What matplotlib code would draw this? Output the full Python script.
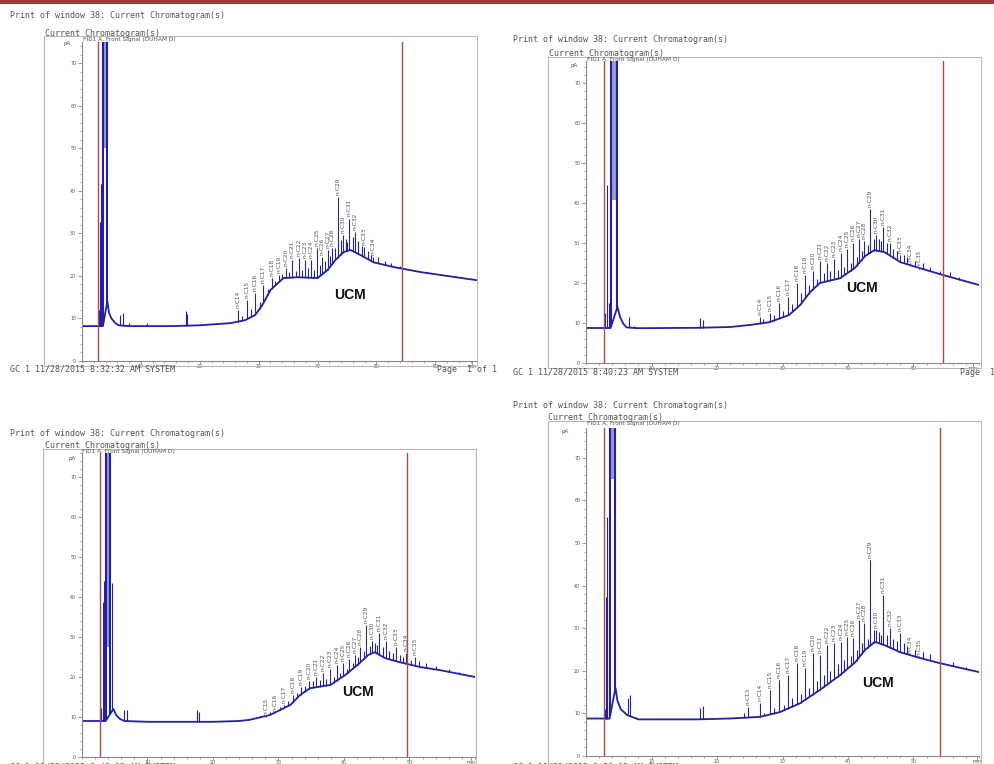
import matplotlib
matplotlib.use('Agg')
import matplotlib.pyplot as plt
from matplotlib.patches import Rectangle
from matplotlib.ticker import MultipleLocator
import numpy as np

W, H = 995, 764

# retention times (min) of the labelled n-alkane peaks, same method for all four runs
alkane_t = [24.8, 26.5, 28.1, 29.4, 30.8, 32.2, 33.4, 34.6, 35.7, 36.8, 37.9, 38.9,
            39.9, 40.8, 41.7, 42.5, 43.4, 44.3, 45.4, 46.4, 47.9, 49.4, 50.9]
alkane_names = ['n-C13', 'n-C14', 'n-C15', 'n-C16', 'n-C17', 'n-C18', 'n-C19', 'n-C20',
                'n-C21', 'n-C22', 'n-C23', 'n-C24', 'n-C25', 'n-C26', 'n-C27', 'n-C28',
                'n-C29', 'n-C30', 'n-C31', 'n-C32', 'n-C33', 'n-C34', 'n-C35']
nan = np.nan

# ---- top left run
tl_base_t = [0, 3.55, 4.3, 4.6, 5.0, 5.6, 6.2, 8, 15, 20, 25.2, 27.7, 29.4, 30.6, 32.0, 34.2,
             36.6, 40.0, 41.7, 43.0, 44.4, 45.6, 47.3, 49.5, 52.9, 57.5, 67]
tl_base_y = [8.2, 8.2, 14.0, 11.3, 10.0, 9.0, 8.4, 8.2, 8.2, 8.4, 8.9, 9.6, 10.8, 13.1, 16.7, 19.5,
             19.7, 19.5, 21.4, 23.7, 25.6, 26.1, 24.9, 23.2, 22.1, 20.9, 19.0]
tl_alk_top = [nan, 12.0, 14.3, 16.0, 17.8, 19.5, 20.2, 21.8, 23.7, 24.2, 23.7, 23.7,
              26.5, 24.4, 26.0, 26.5, 38.5, 29.6, 33.5, 30.3, 26.8, 24.4, nan]
tl_early_t = [2.95, 3.05, 3.2, 3.4, 6.45, 6.9, 7.9, 11.0, 17.6, 17.9]
tl_early_top = [12.0, 32.6, 41.5, 18.0, 10.8, 11.3, 9.0, 8.9, 11.7, 11.0]
tl_solvent = [3.6, 4.2, 50.0]
tl_minor_t = [27.2, 28.7, 30.2, 31.5, 32.8, 34.0, 35.2, 36.3, 37.3, 38.4, 39.4, 40.4, 41.3, 42.1,
              43.0, 43.9, 44.8, 45.0, 46.0, 46.9, 47.5, 48.5, 49.0, 50.2, 51.5, 52.5, 54.0, 56.0,
              58.5, 61.0, 63.5]
tl_minor_top = [10.6, 12.3, 13.8, 17.0, 18.8, 20.5, 21.0, 21.2, 21.5, 21.8, 21.5, 22.5, 23.5, 24.8,
                26.5, 28.5, 28.8, 28.0, 29.2, 28.2, 27.0, 25.8, 25.0, 24.5, 23.6, 23.0, 22.3, 21.5,
                21.0, 20.4, 19.9]
tl_cuts = [2.7, 54.4]

# ---- top right run
tr_base_t = [0, 3.75, 4.8, 5.2, 5.7, 6.2, 8, 17, 22, 25, 28, 31, 32.7, 34.2, 35.7, 38.8, 41.0,
             42.6, 44.0, 45.6, 48.0, 51.0, 54.5, 60]
tr_base_y = [8.75, 8.75, 14.0, 11.5, 9.8, 8.9, 8.7, 8.8, 9.0, 9.5, 10.2, 12.0, 14.5, 17.7, 20.0,
             21.2, 23.7, 26.7, 28.2, 27.7, 25.2, 23.7, 22.0, 19.5]
tr_alk_top = [nan, 11.5, 12.5, 15.0, 16.5, 20.0, 22.0, 23.0, 25.5, 25.0, 26.0, 27.5,
              28.5, 30.0, 31.0, 30.5, 38.5, 32.0, 34.0, 30.0, 27.0, 25.0, 23.5]
tr_early_t = [2.9, 3.25, 3.45, 6.6, 7.4, 17.4, 17.8]
tr_early_top = [12.5, 44.5, 15.0, 11.5, 9.3, 11.2, 10.8]
tr_solvent = [3.8, 4.7, 40.7]
tr_minor_t = [27.0, 28.7, 30.0, 31.5, 32.8, 34.0, 35.2, 36.3, 37.3, 38.4, 39.4, 40.4, 41.3, 42.1,
              43.0, 43.9, 44.8, 45.0, 46.0, 46.9, 47.5, 48.5, 49.0, 50.2, 51.5, 52.5, 54.0, 55.5,
              57.0]
tr_minor_top = [11.0, 12.0, 13.0, 14.8, 17.5, 19.5, 21.0, 22.5, 23.0, 23.2, 24.0, 25.0, 26.5, 28.0,
                29.5, 31.0, 31.0, 30.5, 30.0, 28.5, 28.0, 27.0, 26.5, 25.5, 25.0, 24.0, 23.0, 22.8,
                21.5]
tr_cuts = [2.75, 54.5]

# ---- bottom left run
bl_base_t = [0, 3.6, 4.8, 5.2, 5.8, 6.5, 10, 20, 24, 25.6, 28.7, 31.8, 33.3, 34.8, 37.9, 40.2,
             42.4, 43.7, 44.7, 46.3, 48.5, 51.6, 54.7, 60]
bl_base_y = [9.0, 9.0, 12.0, 10.5, 9.5, 9.0, 8.8, 8.8, 9.0, 9.3, 10.5, 13.0, 15.5, 17.2, 18.0,
             20.5, 23.5, 25.5, 26.2, 24.7, 23.7, 22.5, 21.7, 20.0]
bl_alk_top = [nan, nan, 10.0, 11.0, 13.0, 15.5, 17.5, 19.0, 20.0, 21.0, 22.0, 23.0,
              23.5, 24.5, 25.5, 27.5, 33.0, 29.0, 31.0, 29.0, 27.5, 26.0, 25.0]
bl_early_t = [2.9, 3.15, 3.3, 3.45, 4.6, 6.4, 6.8, 17.6, 17.9]
bl_early_top = [12.2, 38.7, 44.0, 18.7, 43.5, 11.7, 11.7, 11.7, 11.2]
bl_solvent = [3.66, 4.3, 27.5]
bl_minor_t = [27.2, 28.7, 30.2, 31.5, 32.8, 34.0, 35.2, 36.3, 37.3, 38.4, 39.4, 40.4, 41.3, 42.1,
              43.0, 43.9, 44.8, 45.0, 46.0, 46.9, 47.5, 48.5, 49.0, 50.2, 51.5, 52.5, 54.0, 56.0,
              57.5]
bl_minor_top = [10.3, 11.2, 12.5, 14.0, 16.0, 17.8, 19.0, 19.2, 19.5, 20.0, 21.0, 22.0, 23.5, 25.0,
                26.5, 27.8, 28.5, 28.0, 27.5, 26.5, 26.0, 25.5, 25.0, 24.3, 24.0, 23.5, 22.8, 22.0,
                21.2]
bl_cuts = [2.75, 49.6]

# ---- bottom right run
br_base_t = [0, 3.6, 4.5, 4.8, 5.3, 6.3, 8, 17, 22, 26.6, 29.6, 32.7, 35.7, 38.8, 41.1, 42.6,
             44.1, 45.6, 47.9, 51.0, 54.0, 60]
br_base_y = [8.8, 8.8, 16.0, 13.0, 11.0, 9.6, 8.6, 8.6, 8.8, 9.2, 10.3, 12.4, 15.5, 19.0, 22.0,
             24.9, 26.8, 26.0, 24.4, 23.0, 21.8, 19.7]
br_alk_top = [11.5, 12.5, 15.5, 17.8, 19.0, 21.8, 20.6, 24.1, 23.7, 26.0, 26.5, 26.8,
              28.0, 27.7, 31.9, 31.2, 46.0, 29.6, 37.8, 30.0, 28.9, 23.7, 23.0]
br_early_t = [2.95, 3.05, 3.25, 3.5, 6.4, 6.7, 7.6, 17.4, 17.8, 24.1]
br_early_top = [11.0, 37.4, 56.0, 19.5, 13.6, 14.3, 9.2, 11.3, 11.8, 10.0]
br_solvent = [3.67, 4.4, 65.0]
br_minor_t = [27.2, 28.7, 30.2, 31.5, 32.8, 34.0, 35.2, 36.3, 37.3, 38.4, 39.4, 40.4, 41.3, 42.1,
              43.0, 43.9, 44.8, 45.0, 46.0, 46.9, 47.5, 48.5, 49.0, 50.2, 51.5, 52.5, 54.0, 56.0,
              58.0]
br_minor_top = [10.2, 11.3, 12.0, 13.5, 14.5, 16.0, 17.5, 19.0, 20.0, 21.5, 22.5, 23.5, 25.0, 26.5,
                27.5, 29.5, 29.0, 28.5, 28.5, 27.5, 27.0, 26.5, 25.8, 25.0, 24.5, 24.0, 23.0, 22.0,
                21.0]
br_cuts = [2.75, 54.0]

header = 'Print of window 38: Current Chromatogram(s)'
sub = 'Current Chromatogram(s)'
signal = 'FID1 A, Front Signal (DUHAM D)'
footers = ['GC 1 11/28/2015 8:32:32 AM SYSTEM', 'GC 1 11/28/2015 8:40:23 AM SYSTEM',
           'GC 1 11/28/2015 8:48:13 AM SYSTEM', 'GC 1 11/28/2015 8:56:05 AM SYSTEM']
page = 'Page  1 of 1'

BLUE = '#2020a8'
LIGHT = '#9a9acb'
RED = '#b04848'
GREY = '#555555'
MONO = 'DejaVu Sans Mono'

fig = plt.figure(figsize=(W / 100, H / 100), dpi=100)
fig.add_artist(Rectangle((0, 1 - 4 / H), 1, 4 / H, transform=fig.transFigure,
                         color='#9c3b3b', lw=0))


def ftext(x, y, s, **kw):
    kw.setdefault('color', GREY)
    kw.setdefault('va', 'center')
    fig.text(x / W, 1 - y / H, s, **kw)


def draw_panel(lay, base_t, base_y, alk_top, early_t, early_top, solvent,
               minor_t, minor_top, cuts, footer):
    fx0, fy0, fx1, fy1 = lay['frame']
    fig.add_artist(Rectangle((fx0 / W, 1 - fy1 / H), (fx1 - fx0) / W, (fy1 - fy0) / H,
                             transform=fig.transFigure, fill=False, ec='#b8b8b8', lw=0.8))
    ftext(*lay['head'], header, family=MONO, fontsize=6)
    ftext(*lay['sub'], sub, family=MONO, fontsize=6)
    ftext(*lay['fid'], signal, fontsize=4.2)
    ftext(*lay['pa'], 'pA', fontsize=4, ha='center')
    ftext(*lay['foot'], footer, family=MONO, fontsize=6)
    if 'page' in lay:
        ftext(*lay['page'], page, family=MONO, fontsize=6)

    x0, y0, x1, y1 = lay['ax']
    ax = fig.add_axes([x0 / W, 1 - y1 / H, (x1 - x0) / W, (y1 - y0) / H])
    ax.patch.set_alpha(0)
    xmax, ymax = lay['xmax'], lay['ymax']
    ax.set_xlim(0, xmax)
    ax.set_ylim(0, ymax)

    bt = np.array(base_t)
    by = np.array(base_y)
    ax.plot(bt, by, color=BLUE, lw=1.3, solid_joinstyle='round')

    # solvent front, off scale
    s0, s1, valley = solvent
    ax.fill_between([s0, s1], valley, ymax + 10, color=LIGHT, lw=0)
    ax.vlines([s0, s1], np.interp([s0, s1], bt, by), ymax + 10, color=BLUE, lw=1.5)

    et = np.array(early_t)
    ax.vlines(et, np.interp(et, bt, by), early_top, color=BLUE, lw=0.8)

    mt = np.array(minor_t)
    ax.vlines(mt, np.interp(mt, bt, by), minor_top, color=BLUE, lw=0.8)

    for t, top, name in zip(alkane_t, alk_top, alkane_names):
        if np.isnan(top):
            continue
        b = np.interp(t, bt, by)
        ax.vlines(t, b, top, color='#2b2b70', lw=0.8)
        ax.text(t, top + 0.5, name, rotation=90, ha='center', va='bottom',
                fontsize=4.2, color=GREY)

    for c in cuts:
        ax.axvline(c, color=RED, lw=1.0)

    ax.text(lay['ucm'][0], lay['ucm'][1], 'UCM', ha='center', va='center',
            fontsize=10, fontweight='bold', family='Liberation Sans', color='#111111')

    for s in ['top', 'right']:
        ax.spines[s].set_visible(False)
    for s in ['left', 'bottom']:
        ax.spines[s].set_color('#8a8a8a')
        ax.spines[s].set_linewidth(0.8)
    ax.set_yticks(np.arange(0, 71, 10))
    ax.yaxis.set_minor_locator(MultipleLocator(2))
    ax.set_xticks(lay['xticks'] + [lay['min_t']])
    ax.set_xticklabels([str(v) for v in lay['xticks']] + ['min'])
    ax.xaxis.set_minor_locator(MultipleLocator(2))
    ax.tick_params(which='both', colors='#8a8a8a', labelcolor=GREY, labelsize=3.4,
                   direction='out')
    ax.tick_params(axis='y', which='major', length=3, width=0.6, pad=1.2)
    ax.tick_params(axis='y', which='minor', length=1.5, width=0.5)
    ax.tick_params(axis='x', which='major', length=1.8, width=0.6, pad=0.4)
    ax.tick_params(axis='x', which='minor', length=1.2, width=0.5)
    return ax


tl_lay = dict(frame=(44, 36, 477, 366), ax=(82, 42, 476.6, 361), xmax=67, ymax=75,
              head=(10, 15), sub=(45, 33), fid=(83, 39), pa=(67, 43), foot=(10, 369.5),
              page=(437, 369.5), xticks=[10, 20, 30, 40, 50, 60], min_t=66.2, ucm=(45.5, 15.5))
tr_lay = dict(frame=(548, 57, 981, 368), ax=(586, 61, 979, 363), xmax=60, ymax=75.5,
              head=(513, 40), sub=(549, 54), fid=(587, 60), pa=(574, 66), foot=(513, 372.5),
              page=(960, 372.5), xticks=[10, 20, 30, 40, 50], min_t=59.1, ucm=(42.1, 18.7))
bl_lay = dict(frame=(43, 449, 476, 770), ax=(82, 453, 475, 757), xmax=60, ymax=76,
              head=(10, 433), sub=(45, 446), fid=(82, 452), pa=(72, 458), foot=(10, 766.5),
              xticks=[10, 20, 30, 40, 50], min_t=59.4, ucm=(42.1, 16.2))
br_lay = dict(frame=(548, 421, 981, 770), ax=(586, 428, 979, 756), xmax=60, ymax=77,
              head=(513, 405), sub=(548, 418), fid=(587, 424), pa=(565, 431), foot=(513, 766.5),
              xticks=[10, 20, 30, 40, 50], min_t=59.7, ucm=(44.6, 17.1))

draw_panel(tl_lay, tl_base_t, tl_base_y, tl_alk_top, tl_early_t, tl_early_top, tl_solvent,
           tl_minor_t, tl_minor_top, tl_cuts, footers[0])
draw_panel(tr_lay, tr_base_t, tr_base_y, tr_alk_top, tr_early_t, tr_early_top, tr_solvent,
           tr_minor_t, tr_minor_top, tr_cuts, footers[1])
draw_panel(bl_lay, bl_base_t, bl_base_y, bl_alk_top, bl_early_t, bl_early_top, bl_solvent,
           bl_minor_t, bl_minor_top, bl_cuts, footers[2])
draw_panel(br_lay, br_base_t, br_base_y, br_alk_top, br_early_t, br_early_top, br_solvent,
           br_minor_t, br_minor_top, br_cuts, footers[3])

fig.savefig('out.png', dpi=100)
